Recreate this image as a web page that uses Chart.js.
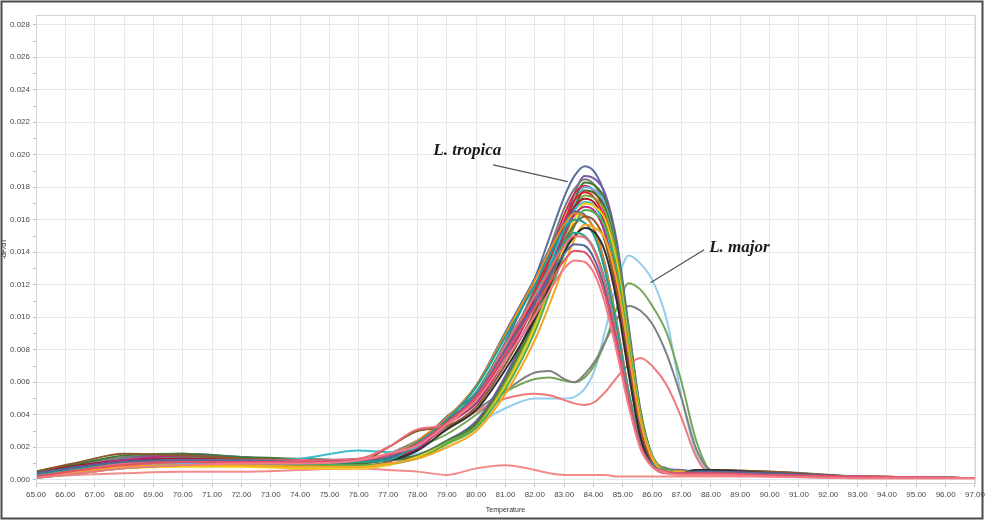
<!DOCTYPE html>
<html>
<head>
<meta charset="utf-8">
<script src="https://cdn.jsdelivr.net/npm/chart.js@4.4.1/dist/chart.umd.min.js"></script>
<style>
  html, body { margin: 0; padding: 0; background: #fff; }
  #wrap { position: absolute; left: 0; top: 0; width: 988px; height: 522px; }
</style>
</head>
<body>
<div id="wrap"><canvas id="melt" width="988" height="522"></canvas></div>
<script>
// melt curve, -dF/dT vs temperature

const temps = [65, 66.5, 68, 70, 72, 74, 76, 77, 78, 79, 80, 81, 82, 82.5, 83, 83.35, 83.7, 84.05, 84.4, 84.8, 85.2, 85.6, 86, 86.5, 87, 87.5, 88, 90, 93, 97];

// L. tropica samples (peak ~83.4-83.8)
const trop01 = [.0004,.0009,.0012,.0014,.0013,.0012,.0013,.0015, .0022,.0039,.0054,.0085,.0124,.0149,.0174,.0187,.0193,.0189,.0174,.0135,.0081,.0033,.0012,.0006,.0005, .0005,.0005,.0004,.0002,.0001];
const trop02 = [.0003,.0008,.0013,.0016,.0014,.0012,.0012,.0013, .0015,.0024,.0036,.0064,.0103,.0129,.0157,.0176,.0187,.0185,.0176,.0146,.0094,.0043,.0015,.0007,.0006, .0005,.0005,.0004,.0002,.0001];
const trop03 = [.0004,.0009,.0013,.0014,.0013,.0012,.0012,.0014, .0021,.0037,.0052,.0081,.0118,.0142,.0167,.0179,.0185,.0181,.0167,.0130,.0078,.0031,.0011,.0006,.0005, .0006,.0006,.0005,.0002,.0001];
const trop04 = [.0005,.0010,.0015,.0016,.0014,.0013,.0012,.0013, .0015,.0024,.0035,.0062,.0101,.0126,.0154,.0172,.0183,.0181,.0172,.0143,.0092,.0042,.0015,.0006,.0005, .0005,.0005,.0004,.0002,.0001];
const trop05 = [.0002,.0006,.0009,.0011,.0011,.0010,.0009,.0011, .0019,.0036,.0051,.0080,.0116,.0139,.0163,.0176,.0181,.0177,.0163,.0127,.0076,.0031,.0011,.0005,.0005, .0005,.0005,.0003,.0002,.0001];
const trop06 = [.0003,.0006,.0009,.0010,.0010,.0010,.0011,.0012, .0014,.0023,.0034,.0061,.0099,.0124,.0151,.0169,.0180,.0178,.0169,.0140,.0090,.0041,.0014,.0006,.0005, .0005,.0005,.0003,.0002,.0001];
const trop07 = [.0004,.0008,.0011,.0012,.0012,.0011,.0012,.0014, .0020,.0035,.0050,.0078,.0113,.0136,.0159,.0172,.0177,.0173,.0159,.0124,.0074,.0030,.0011,.0005,.0004, .0005,.0005,.0004,.0002,.0001];
const trop08 = [.0002,.0005,.0008,.0009,.0009,.0009,.0008,.0009, .0014,.0023,.0033,.0060,.0096,.0121,.0147,.0165,.0175,.0173,.0165,.0137,.0088,.0040,.0014,.0006,.0005, .0005,.0005,.0004,.0002,.0001];
const trop09 = [.0005,.0009,.0012,.0013,.0012,.0011,.0011,.0013, .0019,.0035,.0048,.0076,.0111,.0133,.0156,.0168,.0173,.0170,.0156,.0121,.0073,.0029,.0010,.0005,.0004, .0005,.0005,.0004,.0002,.0001];
const trop10 = [.0001,.0004,.0007,.0008,.0008,.0007,.0007,.0009, .0014,.0022,.0032,.0058,.0094,.0117,.0143,.0160,.0170,.0168,.0160,.0133,.0085,.0039,.0014,.0006,.0005, .0004,.0004,.0003,.0002,.0001];
const trop11 = [.0003,.0008,.0012,.0015,.0013,.0012,.0012,.0013, .0019,.0034,.0047,.0074,.0108,.0129,.0151,.0163,.0168,.0165,.0151,.0118,.0071,.0029,.0010,.0005,.0004, .0005,.0005,.0004,.0002,.0001];
const trop12 = [.0002,.0006,.0010,.0011,.0011,.0010,.0009,.0010, .0013,.0022,.0032,.0056,.0091,.0115,.0139,.0156,.0166,.0164,.0156,.0129,.0083,.0038,.0013,.0006,.0005, .0004,.0004,.0003,.0002,.0001];
const trop13 = [.0002,.0006,.0009,.0011,.0011,.0011,.0012,.0014, .0024,.0038,.0058,.0090,.0123,.0141,.0157,.0164,.0162,.0153,.0131,.0095,.0054,.0023,.0010,.0005,.0004, .0005,.0005,.0004,.0002,.0001];
const trop14 = [.0005,.0011,.0016,.0015,.0013,.0012,.0011,.0020, .0030,.0033,.0045,.0071,.0104,.0125,.0146,.0157,.0162,.0159,.0146,.0113,.0068,.0028,.0010,.0005,.0004, .0006,.0006,.0005,.0002,.0001];
const trop15 = [.0001,.0004,.0007,.0009,.0010,.0010,.0011,.0014, .0023,.0037,.0057,.0088,.0120,.0138,.0154,.0160,.0158,.0149,.0128,.0093,.0053,.0022,.0010,.0005,.0004, .0004,.0004,.0003,.0002,.0001];
const trop16 = [.0002,.0005,.0008,.0009,.0009,.0008,.0008,.0010, .0013,.0020,.0030,.0053,.0086,.0108,.0132,.0148,.0157,.0155,.0148,.0122,.0079,.0036,.0013,.0005,.0005, .0004,.0004,.0003,.0002,.0001];
const trop17 = [.0004,.0008,.0011,.0012,.0012,.0011,.0011,.0012, .0018,.0031,.0043,.0068,.0099,.0119,.0140,.0150,.0155,.0152,.0140,.0109,.0065,.0026,.0009,.0005,.0004, .0006,.0006,.0004,.0002,.0001];
const trop18 = [.0003,.0007,.0010,.0012,.0012,.0011,.0011,.0012, .0022,.0035,.0054,.0084,.0114,.0131,.0146,.0152,.0150,.0141,.0122,.0088,.0050,.0021,.0009,.0005,.0004, .0005,.0005,.0003,.0002,.0001];
const trop19 = [.0002,.0006,.0010,.0012,.0012,.0012,.0013,.0020, .0031,.0034,.0052,.0083,.0113,.0129,.0144,.0150,.0149,.0140,.0120,.0087,.0050,.0021,.0009,.0005,.0004, .0004,.0004,.0003,.0002,.0001];
const trop20 = [.0004,.0008,.0011,.0012,.0012,.0011,.0012,.0014, .0022,.0035,.0052,.0080,.0109,.0125,.0139,.0145,.0144,.0135,.0116,.0084,.0048,.0020,.0009,.0004,.0004, .0005,.0005,.0004,.0002,.0001];
const trop21 = [.0002,.0006,.0009,.0011,.0011,.0011,.0012,.0015, .0022,.0035,.0051,.0078,.0106,.0121,.0135,.0141,.0140,.0131,.0113,.0082,.0047,.0020,.0008,.0004,.0004, .0004,.0004,.0003,.0002,.0001];
const trop22 = [.0001,.0004,.0007,.0009,.0010,.0010,.0012,.0016, .0021,.0034,.0049,.0074,.0101,.0116,.0130,.0135,.0134,.0126,.0108,.0078,.0045,.0019,.0008,.0004,.0003, .0003,.0003,.0002,.0001,.0001];
const trop23 = [.0004,.0008,.0011,.0012,.0012,.0013,.0018,.0017, .0020,.0034,.0048,.0075,.0109,.0132,.0154,.0166,.0171,.0168,.0154,.0120,.0072,.0029,.0010,.0005,.0004, .0005,.0005,.0004,.0002,.0001];
const trop24 = [.0003,.0007,.0010,.0012,.0011,.0011,.0011,.0013, .0024,.0038,.0058,.0091,.0124,.0142,.0158,.0165,.0163,.0153,.0132,.0096,.0054,.0023,.0010,.0005,.0004, .0005,.0005,.0004,.0002,.0001];
const trop25 = [.0003,.0007,.0011,.0013,.0012,.0011,.0010,.0012, .0014,.0023,.0034,.0061,.0098,.0123,.0150,.0167,.0178,.0176,.0167,.0139,.0089,.0041,.0014,.0006,.0005, .0005,.0005,.0004,.0002,.0001];

// L. major samples (shoulder ~82, peak ~85.3)
const majorBlue  = [.0003,.0006,.0009,.0010,.0010,.0011,.0012,.0014, .0016,.0022,.0034,.0044,.0050,.0050,.0050,.0051,.0056,.0068,.0092,.0121,.0138,.0133,.0123,.0098,.0051, .0016,.0005,.0004,.0002,.0001];
const majorGreen = [.0004,.0008,.0012,.0013,.0012,.0011,.0010,.0013, .0020,.0028,.0040,.0054,.0062,.0063,.0061,.0060,.0063,.0071,.0085,.0106,.0121,.0117,.0107,.0090,.0060, .0024,.0006,.0004,.0002,.0001];
const majorGray  = [.0005,.0010,.0014,.0015,.0013,.0012,.0012,.0016, .0024,.0032,.0043,.0055,.0066,.0067,.0062,.0060,.0065,.0073,.0085,.0099,.0107,.0104,.0096,.0077,.0050, .0019,.0006,.0005,.0002,.0001];
const majorRed   = [.0002,.0005,.0008,.0010,.0010,.0011,.0012,.0016, .0022,.0031,.0042,.0050,.0053,.0052,.0049,.0047,.0046,.0048,.0054,.0063,.0071,.0075,.0070,.0058,.0038, .0014,.0004,.0004,.0002,.0001];

// negative control
const blankRed = [.0002,.0003,.0004,.0005,.0005,.0006,.0007,.0006, .0005,.0003,.0007,.0009,.0006,.0004,.0003,.0003,.0003,.0003,.0003,.0002,.0002,.0002,.0002,.0002,.0002, .0002,.0002,.0002,.0001,.0001];

const tropicaSeries = [trop22, trop21, trop20, trop19, trop18, trop17, trop16, trop15, trop14, trop13, trop12, trop24, trop11, trop10, trop23, trop09, trop08, trop07, trop25, trop06, trop05, trop04, trop03, trop02, trop01];
const tropicaColors = ["#f27b86", "#e5506b", "#56689a", "#ee6a78", "#27a58c", "#2f2f2f", "#f5a623", "#1e9e92", "#8b5a2b", "#f0891c", "#4caf50", "#3a63b5", "#b4307e", "#f2cc1a", "#3dbccc", "#a31d35", "#7ea63c", "#e3202c", "#4f6b2c", "#69b3e2", "#d12b45", "#3e7b3a", "#7b7b7b", "#7c5aa8", "#5d6f9c"];
const majorSeries = [majorRed, majorGray, majorGreen, majorBlue];
const majorColors = ["#f07a7a", "#808080", "#75a556", "#92cdec"];

const yTickValues = [0, .001, .002, .003, .004, .005, .006, .007, .008, .009, .010, .011, .012, .013, .014, .015, .016, .017, .018, .019, .020, .021, .022, .023, .024, .025, .026, .027, .028];

const annotations = [
  { text: "L. tropica", tx: 78.54, ty: 0.0200, from: [80.58, 0.01938], to: [83.12, 0.01834] },
  { text: "L. major",   tx: 87.94, ty: 0.0140, from: [87.77, 0.01415], to: [85.94, 0.01212] }
];

function toPoints(values) {
  return values.map((v, i) => ({ x: temps[i], y: v }));
}

const datasets = [];
tropicaSeries.forEach((s, i) => datasets.push({ label: "tropica " + (i + 1), data: toPoints(s), borderColor: tropicaColors[i] }));
majorSeries.forEach((s, i) => datasets.push({ label: "major " + (i + 1), data: toPoints(s), borderColor: majorColors[i] }));
datasets.push({ label: "NTC", data: toPoints(blankRed), borderColor: "#f28a8a" });

const gridColor = "#e2e8ee";
const isMajor = v => Math.round(v * 1000) % 2 === 0;

const decor = {
  id: "decor",
  afterDraw(chart) {
    const ctx = chart.ctx;
    const a = chart.chartArea;
    const xs = chart.scales.x, ys = chart.scales.y;
    ctx.save();
    ctx.strokeStyle = "#cdd6de";
    ctx.lineWidth = 1;
    ctx.strokeRect(a.left + 0.5, a.top + 0.5, a.right - a.left, a.bottom - a.top);

    annotations.forEach(an => {
      ctx.strokeStyle = "#555";
      ctx.lineWidth = 1.3;
      ctx.beginPath();
      ctx.moveTo(xs.getPixelForValue(an.from[0]), ys.getPixelForValue(an.from[1]));
      ctx.lineTo(xs.getPixelForValue(an.to[0]), ys.getPixelForValue(an.to[1]));
      ctx.stroke();
      ctx.fillStyle = "#1a1a1a";
      ctx.font = "italic bold 17px 'Liberation Serif', 'DejaVu Serif', serif";
      ctx.textBaseline = "alphabetic";
      ctx.fillText(an.text, xs.getPixelForValue(an.tx), ys.getPixelForValue(an.ty));
    });

    // outer frame
    ctx.strokeStyle = "#4a4a4a";
    ctx.lineWidth = 2;
    ctx.strokeRect(1.5, 1.5, 981, 517);
    ctx.restore();
  }
};

const tickFont = { family: "'Liberation Sans Narrow', 'Liberation Sans', sans-serif", size: 8 };

const chart = new Chart(document.getElementById("melt").getContext("2d"), {
  type: "line",
  data: { datasets: datasets },
  options: {
    responsive: false,
    animation: false,
    devicePixelRatio: 1,
    layout: { padding: { top: 15, right: 9, left: 0, bottom: 0 } },
    elements: {
      point: { radius: 0 },
      line: { borderWidth: 2, cubicInterpolationMode: "monotone" }
    },
    plugins: { legend: { display: false }, tooltip: { enabled: false } },
    scales: {
      x: {
        type: "linear",
        min: 65,
        max: 97,
        afterFit: s => { s.height = 39; },
        grid: { color: gridColor, tickLength: 4, tickColor: "#b8c0c8" },
        border: { color: "#c4ccd4" },
        ticks: {
          stepSize: 1,
          autoSkip: false,
          maxRotation: 0,
          padding: 3,
          color: "#4a4a4a",
          font: tickFont,
          callback: v => v.toFixed(2)
        },
        title: {
          display: true,
          text: "Temperature",
          color: "#333",
          padding: { top: 0, bottom: 8 },
          font: { family: tickFont.family, size: 7 }
        }
      },
      y: {
        min: -0.0002,
        max: 0.0286,
        afterFit: s => { s.width = 36; },
        afterBuildTicks: s => { s.ticks = yTickValues.map(v => ({ value: v })); },
        grid: {
          color: c => (isMajor(c.tick.value) ? gridColor : "rgba(0,0,0,0)"),
          tickColor: "#b8c0c8",
          tickLength: 3
        },
        border: { color: "#c4ccd4" },
        ticks: {
          autoSkip: false,
          padding: 3,
          color: "#4a4a4a",
          font: tickFont,
          callback: v => (isMajor(v) ? v.toFixed(3) : "")
        },
        title: {
          display: true,
          text: "-dF/dT",
          color: "#333",
          padding: { top: 0, bottom: 0 },
          font: { family: tickFont.family, size: 7 }
        }
      }
    }
  },
  plugins: [decor]
});
</script>
</body>
</html>
